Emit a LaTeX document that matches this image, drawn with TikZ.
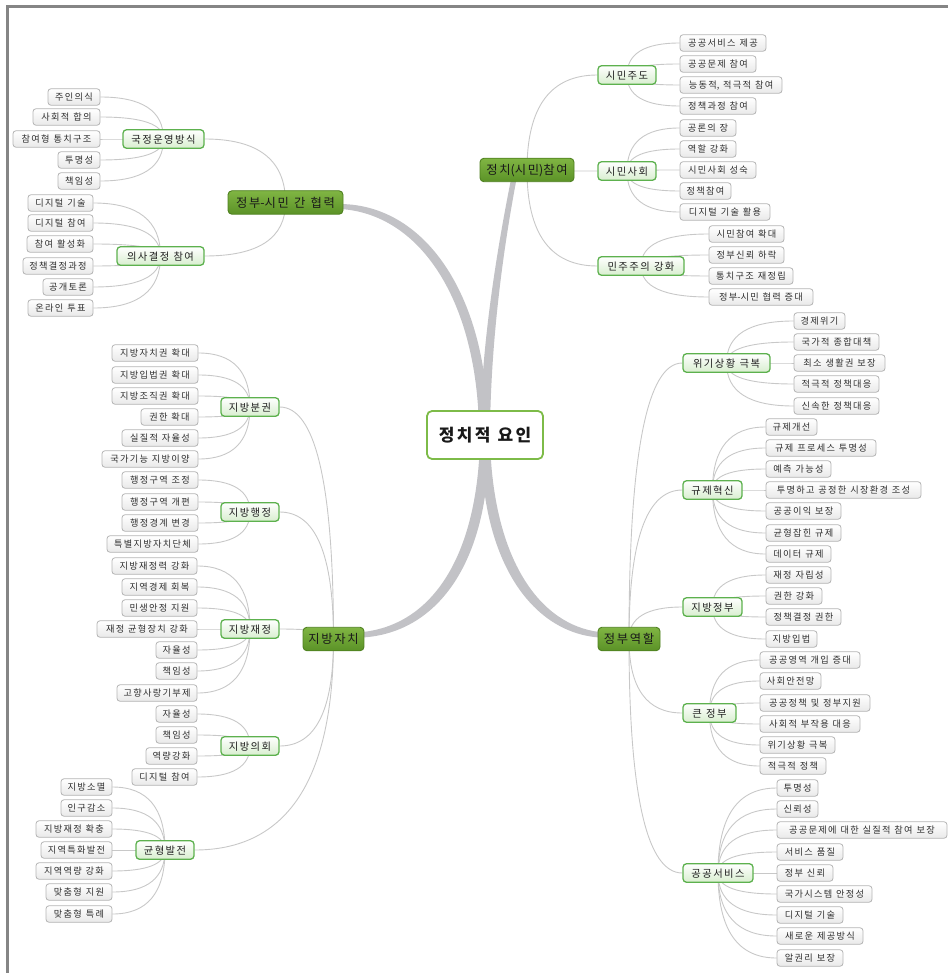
\documentclass[tikz,border=0pt]{standalone}
\usepackage{fontspec}
\usetikzlibrary{calc}
\newfontfamily\krA{Noto Sans CJK KR}
% letter spacing between Hangul syllables
\XeTeXinterchartokenstate=1
\newXeTeXintercharclass\hangulclass
\newcount\hgcount
\hgcount="AC00
\loop
  \XeTeXcharclass\hgcount=\hangulclass
  \advance\hgcount by 1
\ifnum\hgcount<"D7A4 \repeat
\XeTeXinterchartoks\hangulclass\hangulclass={\kern0.14em\relax}
\newcommand\ws{\hskip0.42em\relax}
\pgfdeclarelayer{bg}
\pgfsetlayers{bg,main}
\definecolor{lfb}{HTML}{B4B4B4}
\definecolor{lfbot}{HTML}{E9E9E9}
\definecolor{lft}{HTML}{303030}
\definecolor{sbb}{HTML}{5DB14E}
\definecolor{sbbot}{HTML}{D8EECF}
\definecolor{mnb}{HTML}{4E801F}
\definecolor{mntop}{HTML}{80B543}
\definecolor{mnbot}{HTML}{5B9227}
\definecolor{cnb}{HTML}{7DBB48}
\definecolor{thinc}{HTML}{C8C8C8}
\definecolor{thickc}{HTML}{C2C2C6}
\definecolor{framec}{HTML}{858585}
\tikzset{
 leafn/.style={draw=lfb, line width=0.8pt, rounded corners=3pt, top color=white, bottom color=lfbot,
   minimum height=16.5pt, inner sep=0pt, text=lft, font={\krA\fontsize{9.2}{10}\selectfont},
   text height=7.2pt, text depth=0pt},
 subn/.style={draw=sbb, line width=1.3pt, rounded corners=3.5pt, top color=white, bottom color=sbbot,
   minimum height=18.5pt, inner sep=0pt, text=black!88, font={\krA\fontsize{10.3}{12}\selectfont},
   text height=8.2pt, text depth=0pt},
 mainn/.style={draw=mnb, line width=0.9pt, rounded corners=4pt, top color=mntop, bottom color=mnbot,
   minimum height=23.5pt, inner sep=0pt, text=black!90, font={\krA\fontsize{12.3}{14}\selectfont},
   text height=9.8pt, text depth=0pt},
 centern/.style={draw=cnb, line width=1.8pt, rounded corners=5pt, fill=white,
   minimum width=116pt, minimum height=48pt, inner sep=0pt, text=black!90,
   font={\krA\bfseries\fontsize{17}{19}\selectfont}, text height=13.4pt, text depth=0pt},
 conn/.style={draw=thinc, line width=0.9pt},
}
\newcommand\mkleaf[5]{\node[leafn,minimum width={(#3-#2)*1pt}] (#1) at ({(#2+#3)/2},#4) {#5};}
\newcommand\mksub[5]{\node[subn,minimum width={(#3-#2)*1pt}] (#1) at ({(#2+#3)/2},#4) {#5};}
\newcommand\mkmain[5]{\node[mainn,minimum width={(#3-#2)*1pt}] (#1) at ({(#2+#3)/2},#4) {#5};}
\newcommand\mkconn[2]{\draw[conn] (#1) .. controls ($(#1)!0.667!(#2 |- #1)$) and ($(#2)!0.667!(#2 |- #1)$) .. (#2);}
\begin{document}
\begin{tikzpicture}[x=1pt,y=-1pt]
\useasboundingbox (0,0) rectangle (948,973);
% center and main topics
\node[centern] (c) at (485,435) {정치적\ws 요인};
\mkmain{m1}{228}{343}{202.5}{정부-시민\ws 간\ws 협력}
\mkmain{m2}{480}{574}{170}{정치(시민)참여}
\mkmain{m3}{303}{364}{639}{지방자치}
\mkmain{m4}{598}{660}{639}{정부역할}
% subtopics
\mksub{s1}{123}{204}{139}{국정운영방식}
\mksub{s2}{117}{204}{256}{의사결정\ws 참여}
\mksub{s3}{598}{656}{75}{시민주도}
\mksub{s4}{598}{656}{171}{시민사회}
\mksub{s5}{598}{684}{266}{민주주의\ws 강화}
\mksub{s6}{683}{770}{363}{위기상황\ws 극복}
\mksub{s7}{683}{742}{490}{규제혁신}
\mksub{s8}{683}{742}{607}{지방정부}
\mksub{s9}{683}{736}{713}{큰\ws 정부}
\mksub{s10}{683}{753}{873}{공공서비스}
\mksub{s11}{221}{279}{407}{지방분권}
\mksub{s12}{221}{279}{512}{지방행정}
\mksub{s13}{221}{279}{629}{지방재정}
\mksub{s14}{221}{279}{746}{지방의회}
\mksub{s15}{136}{194}{850}{균형발전}
% leaves: s1
\mkleaf{a1}{48}{100}{97}{주인의식}
\mkleaf{a2}{33}{100}{117}{사회적\ws 합의}
\mkleaf{a3}{13}{100}{139}{참여형\ws 통치구조}
\mkleaf{a4}{58}{100}{160}{투명성}
\mkleaf{a5}{58}{100}{181}{책임성}
% s2
\mkleaf{b1}{28}{93}{203}{디지털\ws 기술}
\mkleaf{b2}{28}{93}{223}{디지털\ws 참여}
\mkleaf{b3}{27}{93}{244}{참여\ws 활성화}
\mkleaf{b4}{23}{93}{266}{정책결정과정}
\mkleaf{b5}{43}{93}{287}{공개토론}
\mkleaf{b6}{28}{93}{308}{온라인\ws 투표}
% s3
\mkleaf{d1}{680}{766}{43}{공공서비스\ws 제공}
\mkleaf{d2}{680}{756}{64}{공공문제\ws 참여}
\mkleaf{d3}{680}{782}{85}{능동적,\ws 적극적\ws 참여}
\mkleaf{d4}{680}{756}{106}{정책과정\ws 참여}
% s4
\mkleaf{e1}{680}{736}{128}{공론의\ws 장}
\mkleaf{e2}{680}{736}{149}{역할\ws 강화}
\mkleaf{e3}{680}{756}{170}{시민사회\ws 성숙}
\mkleaf{e4}{680}{731}{191}{정책참여}
\mkleaf{e5}{680}{770}{212}{디지털\ws 기술\ws 활용}
% s5
\mkleaf{f1}{709}{784}{234}{시민참여\ws 확대}
\mkleaf{f2}{709}{784}{255}{정부신뢰\ws 하락}
\mkleaf{f3}{709}{793}{276}{통치구조\ws 재정립}
\mkleaf{f4}{709}{813}{297}{정부-시민\ws 협력\ws 증대}
% s6
\mkleaf{g1}{794}{845}{321}{경제위기}
\mkleaf{g2}{794}{879}{342}{국가적\ws 종합대책}
\mkleaf{g3}{794}{885}{363}{최소\ws 생활권\ws 보장}
\mkleaf{g4}{794}{879}{384}{적극적\ws 정책대응}
\mkleaf{g5}{794}{879}{406}{신속한\ws 정책대응}
% s7
\mkleaf{h1}{766}{817}{427}{규제개선}
\mkleaf{h2}{766}{876}{448}{규제\ws 프로세스\ws 투명성}
\mkleaf{h3}{766}{831}{469}{예측\ws 가능성}
\mkleaf{h4}{766}{921}{490}{투명하고\ws 공정한\ws 시장환경\ws 조성}
\mkleaf{h5}{766}{841}{511}{공공이익\ws 보장}
\mkleaf{h6}{766}{841}{533}{균형잡힌\ws 규제}
\mkleaf{h7}{766}{831}{554}{데이터\ws 규제}
% s8
\mkleaf{i1}{766}{831}{575}{재정\ws 자립성}
\mkleaf{i2}{766}{822}{596}{권한\ws 강화}
\mkleaf{i3}{766}{841}{617}{정책결정\ws 권한}
\mkleaf{i4}{766}{817}{639}{지방입법}
% s9
\mkleaf{j1}{760}{860}{660}{공공영역\ws 개입\ws 증대}
\mkleaf{j2}{760}{821}{681}{사회안전망}
\mkleaf{j3}{760}{870}{703}{공공정책\ws 및\ws 정부지원}
\mkleaf{j4}{760}{860}{724}{사회적\ws 부작용\ws 대응}
\mkleaf{j5}{760}{835}{745}{위기상황\ws 극복}
\mkleaf{j6}{760}{826}{766}{적극적\ws 정책}
% s10
\mkleaf{k1}{777}{818}{788}{투명성}
\mkleaf{k2}{777}{818}{809}{신뢰성}
\mkleaf{k3}{777}{947}{830}{공공문제에\ws 대한\ws 실질적\ws 참여\ws 보장}
\mkleaf{k4}{777}{843}{852}{서비스\ws 품질}
\mkleaf{k5}{777}{833}{873}{정부\ws 신뢰}
\mkleaf{k6}{777}{872}{894}{국가시스템\ws 안정성}
\mkleaf{k7}{777}{843}{915}{디지털\ws 기술}
\mkleaf{k8}{777}{863}{936}{새로운\ws 제공방식}
\mkleaf{k9}{777}{843}{958}{알권리\ws 보장}
% s11
\mkleaf{n1}{112}{198}{353}{지방자치권\ws 확대}
\mkleaf{n2}{112}{198}{375}{지방입법권\ws 확대}
\mkleaf{n3}{112}{198}{396}{지방조직권\ws 확대}
\mkleaf{n4}{141}{198}{417}{권한\ws 확대}
\mkleaf{n5}{122}{198}{438}{실질적\ws 자율성}
\mkleaf{n6}{102}{198}{459}{국가기능\ws 지방이양}
% s12
\mkleaf{o1}{122}{198}{480}{행정구역\ws 조정}
\mkleaf{o2}{122}{198}{502}{행정구역\ws 개편}
\mkleaf{o3}{122}{198}{523}{행정경계\ws 변경}
\mkleaf{o4}{107}{198}{544}{특별지방자치단체}
% s13
\mkleaf{p1}{112}{197}{566}{지방재정력\ws 강화}
\mkleaf{p2}{122}{197}{587}{지역경제\ws 회복}
\mkleaf{p3}{122}{197}{608}{민생안정\ws 지원}
\mkleaf{p4}{97}{197}{629}{재정\ws 균형장치\ws 강화}
\mkleaf{p5}{156}{197}{650}{자율성}
\mkleaf{p6}{156}{197}{671}{책임성}
\mkleaf{p7}{117}{197}{693}{고향사랑기부제}
% s14
\mkleaf{q1}{156}{197}{714}{자율성}
\mkleaf{q2}{156}{197}{735}{책임성}
\mkleaf{q3}{146}{197}{756}{역량강화}
\mkleaf{q4}{132}{197}{777}{디지털\ws 참여}
% s15
\mkleaf{r1}{61}{112}{787}{지방소멸}
\mkleaf{r2}{61}{112}{808}{인구감소}
\mkleaf{r3}{36}{112}{829}{지방재정\ws 확충}
\mkleaf{r4}{41}{112}{850}{지역특화발전}
\mkleaf{r5}{36}{112}{871}{지역역량\ws 강화}
\mkleaf{r6}{46}{112}{892}{맞춤형\ws 지원}
\mkleaf{r7}{46}{112}{914}{맞춤형\ws 특례}
% connectors behind the nodes
\begin{pgfonlayer}{bg}
 % thick tapered branches
 \fill[thickc] ($(c.center)+(-6,-5)$) .. controls (477,300) and (420,214) .. ($(m1.east)+(-3,6.5)$)
   -- ($(m1.east)+(-3,1.5)$) .. controls (428,205) and (488,300) .. ($(c.center)+(3,-5)$) -- cycle;
 \fill[thickc] ($(c.center)+(-5,-5)$) .. controls (482,340) and (497,250) .. ($(m2.south)+(-16,-3)$)
   -- ($(m2.south)+(-10.5,-3)$) .. controls (503,250) and (491,340) .. ($(c.center)+(5,-5)$) -- cycle;
 \fill[thickc] ($(c.center)+(-5,5)$) .. controls (477,560) and (430,625) .. ($(m3.east)+(-2,-7)$)
   -- ($(m3.east)+(-2,-1.5)$) .. controls (436,633) and (489,565) .. ($(c.center)+(4,5)$) -- cycle;
 \fill[thickc] ($(c.center)+(-4,5)$) .. controls (481,565) and (534,633) .. ($(m4.west)+(2,-1.5)$)
   -- ($(m4.west)+(2,-7)$) .. controls (540,625) and (493,560) .. ($(c.center)+(5,5)$) -- cycle;
 % main to sub
 \mkconn{s1.east}{m1.center}
 \mkconn{s2.east}{m1.center}
 \foreach \s in {s3,s4,s5} {\mkconn{\s.west}{m2.center}}
 \foreach \s in {s6,s7,s8,s9,s10} {\mkconn{\s.west}{m4.center}}
 \foreach \s in {s11,s12,s13,s14,s15} {\mkconn{\s.east}{m3.center}}
 % sub to leaves
 \foreach \i in {1,...,5} {\mkconn{a\i.east}{s1.center}}
 \foreach \i in {1,...,6} {\mkconn{b\i.east}{s2.center}}
 \foreach \i in {1,...,4} {\mkconn{d\i.west}{s3.center}}
 \foreach \i in {1,...,5} {\mkconn{e\i.west}{s4.center}}
 \foreach \i in {1,...,4} {\mkconn{f\i.west}{s5.center}}
 \foreach \i in {1,...,5} {\mkconn{g\i.west}{s6.center}}
 \foreach \i in {1,...,7} {\mkconn{h\i.west}{s7.center}}
 \foreach \i in {1,...,4} {\mkconn{i\i.west}{s8.center}}
 \foreach \i in {1,...,6} {\mkconn{j\i.west}{s9.center}}
 \foreach \i in {1,...,9} {\mkconn{k\i.west}{s10.center}}
 \foreach \i in {1,...,6} {\mkconn{n\i.east}{s11.center}}
 \foreach \i in {1,...,4} {\mkconn{o\i.east}{s12.center}}
 \foreach \i in {1,...,7} {\mkconn{p\i.east}{s13.center}}
 \foreach \i in {1,...,4} {\mkconn{q\i.east}{s14.center}}
 \foreach \i in {1,...,7} {\mkconn{r\i.east}{s15.center}}
\end{pgfonlayer}
% frame
\draw[framec, line width=3pt] (7.5,973) -- (7.5,7) -- (948,7);
\end{tikzpicture}
\end{document}
